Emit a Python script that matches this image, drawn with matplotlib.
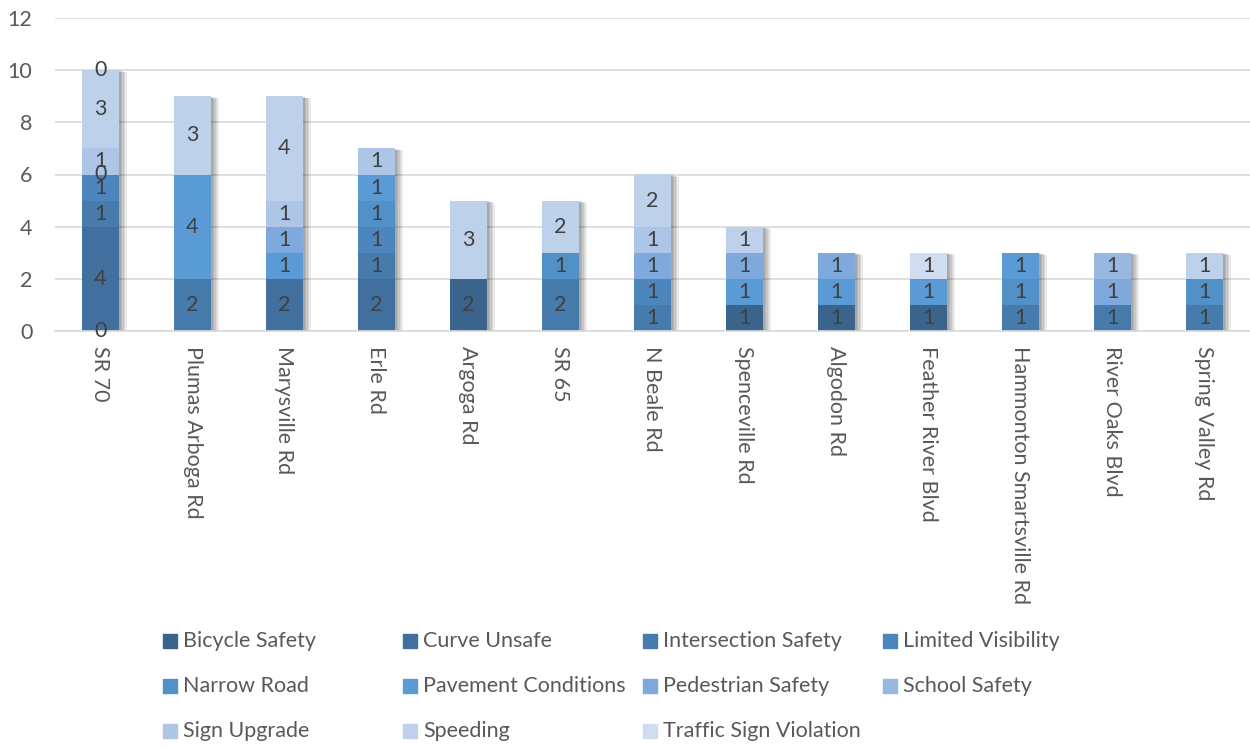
import numpy as np
import matplotlib
matplotlib.use("Agg")
import matplotlib.pyplot as plt
from matplotlib.transforms import ScaledTranslation
from matplotlib.patches import Rectangle

plt.rcParams['font.family'] = ['Lato', 'DejaVu Sans']

roads = ["SR 70", "Plumas Arboga Rd", "Marysville Rd", "Erle Rd", "Argoga Rd", "SR 65",
         "N Beale Rd", "Spenceville Rd", "Algodon Rd", "Feather River Blvd",
         "Hammonton Smartsville Rd", "River Oaks Blvd", "Spring Valley Rd"]

n = np.nan
bicycle_safety     = [0, n, n, n, 2, n, n, 1, 1, 1, n, n, n]
curve_unsafe       = [4, n, 2, 2, n, n, n, n, n, n, n, n, n]
intersection       = [1, 2, n, 1, n, 2, 1, n, n, n, 1, 1, 1]
limited_visibility = [1, n, n, 1, n, n, 1, n, n, n, n, n, n]
narrow_road        = [0, n, n, 1, n, 1, n, n, n, n, 1, n, 1]
pavement           = [n, 4, 1, 1, n, n, n, 1, 1, 1, 1, n, n]
pedestrian         = [n, n, 1, n, n, n, 1, 1, 1, n, n, 1, n]
school_safety      = [n, n, n, n, n, n, n, n, n, n, n, 1, n]
sign_upgrade       = [1, n, 1, 1, n, n, 1, n, n, n, n, n, n]
speeding           = [3, 3, 4, n, 3, 2, 2, 1, n, n, n, n, 1]
traffic_sign_viol  = [0, n, n, n, n, n, n, n, n, 1, n, n, n]

series_names = ["Bicycle Safety", "Curve Unsafe", "Intersection Safety", "Limited Visibility",
                "Narrow Road", "Pavement Conditions", "Pedestrian Safety", "School Safety",
                "Sign Upgrade", "Speeding", "Traffic Sign Violation"]
series_values = [bicycle_safety, curve_unsafe, intersection, limited_visibility, narrow_road,
                 pavement, pedestrian, school_safety, sign_upgrade, speeding, traffic_sign_viol]
series_colors = ["#3b648d", "#41709e", "#467bac", "#4c86bc", "#5290c8", "#5b9bd5",
                 "#7fa9dc", "#98b8e0", "#adc5e6", "#bdd1eb", "#d0ddf0"]

W, H, DPI = 1250, 746, 100
FS = 15.5
fig = plt.figure(figsize=(W / DPI, H / DPI), dpi=DPI)
ax = fig.add_axes([54.5 / W, 1 - 331 / H, 1196 / W, 313 / H])

x = np.arange(len(roads))
width = 0.40
data = np.array(series_values, dtype=float)
totals = np.nansum(data, axis=0)

# soft drop shadow behind each stacked column
for dx in [2, 3.5, 5, 6.5, 8]:
    off = ax.transData + ScaledTranslation(dx / DPI, -dx * 0.25 / DPI, fig.dpi_scale_trans)
    ax.bar(x, totals, width, color="black", alpha=0.08, transform=off, zorder=1, linewidth=0)

bottom = np.zeros(len(roads))
for name, vals, col in zip(series_names, data, series_colors):
    v = np.nan_to_num(vals)
    ax.bar(x, v, width, bottom=bottom, color=col, zorder=2, linewidth=0, label=name)
    for i, val in enumerate(vals):
        if not np.isnan(val):
            ax.text(x[i], bottom[i] + val / 2, f"{int(val)}", ha="center", va="center",
                    fontsize=FS, color="#404040", zorder=3)
    bottom += v

ax.set_xlim(-0.5, len(roads) - 0.5)
ax.set_ylim(0, 12)
ax.set_yticks(np.arange(0, 13, 2))
ax.grid(axis="y", color="#d9d9d9", linewidth=1.2, zorder=0)
ax.set_axisbelow(True)
for s in ["top", "right", "left"]:
    ax.spines[s].set_visible(False)
ax.spines["bottom"].set_color("#d9d9d9")
ax.spines["bottom"].set_linewidth(1.2)
ax.tick_params(axis="both", length=0, labelsize=FS, labelcolor="#595959")
ax.tick_params(axis="y", pad=16)
ax.tick_params(axis="x", pad=11)
ax.set_xticks(x)
ax.set_xticklabels(roads, rotation=270, ha="center", va="top")

# legend laid out row by row in four fixed-width columns
for i, (name, col) in enumerate(zip(series_names, series_colors)):
    r, c = divmod(i, 4)
    px = 163 + 240 * c
    py = 641 + 45 * r
    fig.patches.append(Rectangle((px / W, 1 - (py + 7) / H), 14 / W, 14 / H,
                                 transform=fig.transFigure, color=col, figure=fig))
    fig.text((px + 20) / W, 1 - py / H, name, fontsize=FS, color="#595959",
             ha="left", va="center")

fig.savefig("out.png", dpi=DPI)
